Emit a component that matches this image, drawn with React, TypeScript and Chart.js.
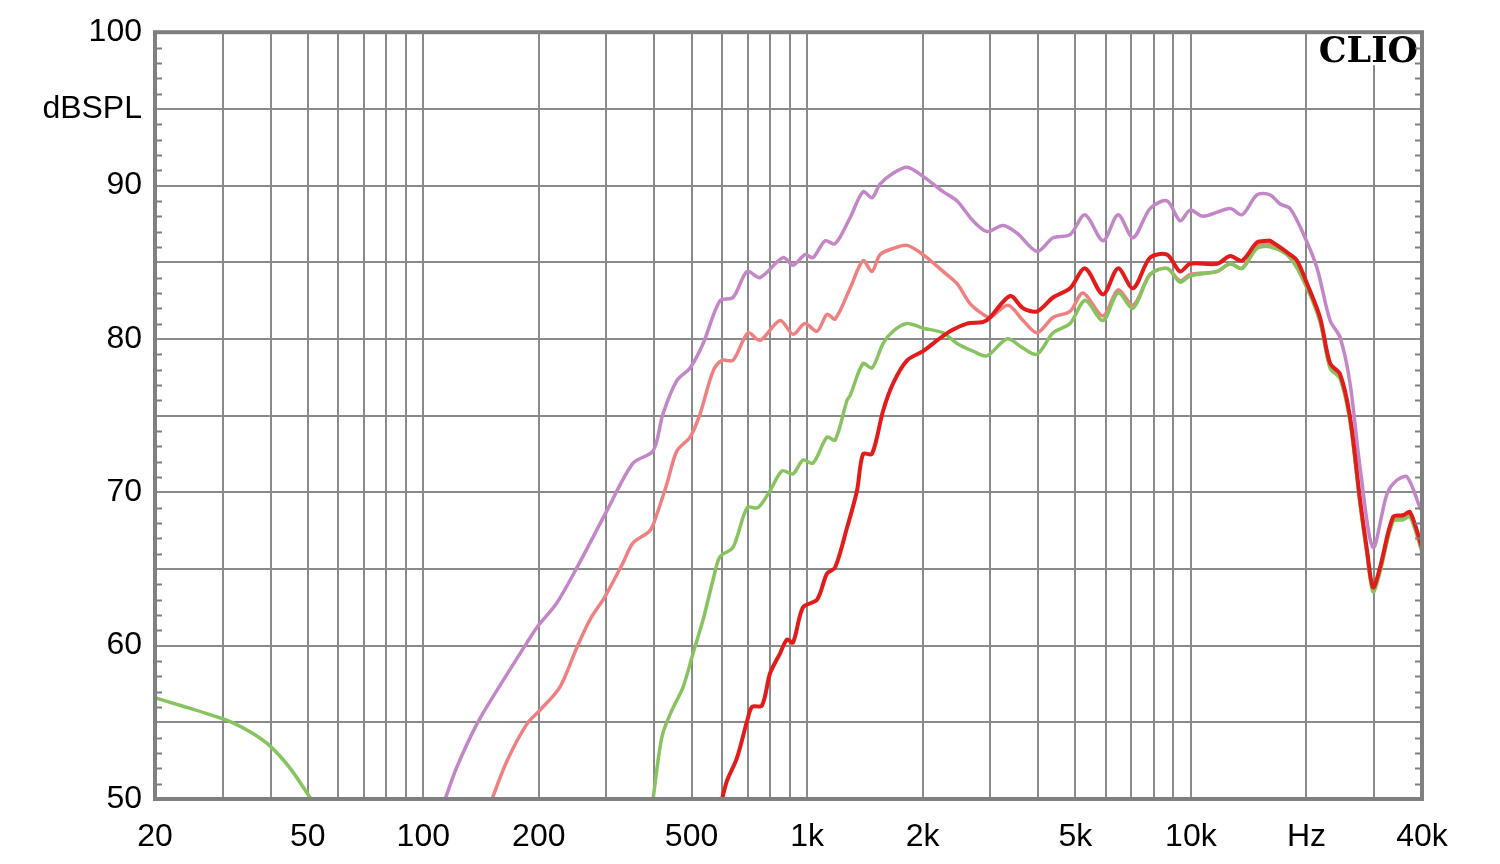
import React, { useEffect, useRef } from "react";
import { Chart, registerables } from "chart.js";

Chart.register(...registerables);

// ---------- data ----------
const purpleFreq = [114, 122.4, 138, 155.7, 186.3, 197.9, 223, 251.5, 301, 352, 397, 421, 458, 495.5, 536, 593, 641, 698, 754, 865.5, 919, 987.6, 1036, 1114, 1183, 1294, 1399, 1476, 1549, 1675, 1822, 2005, 2261, 2459, 2706, 2943, 3239, 3524, 3973, 4373, 4843, 5298, 5902, 6459, 7068, 7825, 8665, 9370, 9948, 10755, 12647, 13592, 14871, 16078, 17074, 18130, 19836, 21320, 23046, 24469, 25980, 27590, 29820, 32430, 34440, 36570, 39540, 40000];
const purpleDb = [50, 52.1, 54.9, 57.1, 60.2, 61.2, 62.8, 65.1, 68.8, 71.9, 72.7, 75.1, 77.3, 78.1, 79.7, 82.5, 82.7, 84.4, 84.0, 85.3, 84.8, 85.5, 85.3, 86.4, 86.2, 87.9, 89.6, 89.2, 90.1, 90.8, 91.2, 90.6, 89.6, 89.0, 87.7, 87.0, 87.4, 86.9, 85.7, 86.6, 86.8, 88.1, 86.4, 88.1, 86.6, 88.5, 89.0, 87.7, 88.4, 88.0, 88.5, 88.1, 89.4, 89.4, 88.8, 88.5, 86.6, 84.6, 81.2, 80.1, 77.1, 71.6, 66.4, 69.9, 70.8, 71.0, 69.0, 68.8];

const pinkFreq = [151, 165.3, 186.3, 201.5, 227, 251.5, 271.9, 297.5, 331.4, 352, 389.5, 406.4, 431.7, 458, 495.5, 526, 568.9, 600.3, 641, 702, 754, 850.4, 919, 987.6, 1061.5, 1127, 1183, 1294, 1399, 1476, 1549, 1675, 1822, 2005, 2261, 2459, 2658, 2873, 2997, 3339, 3653, 3973, 4373, 4843, 5235, 5902, 6459, 7068, 7825, 8665, 9370, 9948, 11700, 12647, 13592, 14871, 16078, 18130, 20072, 21700, 23046, 24469, 25980, 27590, 28770, 29820, 31100, 33630, 35710, 37240, 40000];
const pinkDb = [50, 52.5, 54.9, 55.8, 57.3, 59.9, 61.7, 63.2, 65.4, 66.7, 67.5, 68.6, 70.6, 72.7, 73.6, 75.1, 77.9, 78.6, 78.6, 80.4, 79.9, 81.2, 80.3, 81.0, 80.5, 81.6, 81.3, 83.3, 85.1, 84.4, 85.5, 85.9, 86.1, 85.5, 84.4, 83.6, 82.3, 81.6, 81.4, 82.2, 81.2, 80.4, 81.4, 81.8, 83.0, 81.5, 83.2, 82.2, 84.2, 84.6, 83.8, 84.2, 84.4, 84.9, 84.6, 86.1, 86.2, 85.3, 83.4, 81.2, 78.2, 77.5, 74.7, 69.3, 66.0, 63.7, 65.0, 68.2, 68.3, 68.5, 66.2];

const greenLowFreq = [20, 23.66, 27.83, 31.74, 35.8, 39.9, 45.0, 51];
const greenLowDb = [56.6, 56.05, 55.5, 55.0, 54.3, 53.45, 52.0, 50];

const greenFreq = [397, 408.9, 421, 444.7, 475.2, 504.6, 536, 568.9, 593, 641, 698, 745, 800.8, 860.4, 919, 976, 1036, 1127, 1183, 1271, 1294, 1399, 1476, 1577, 1675, 1822, 2005, 2261, 2459, 2706, 2943, 3319, 3653, 3973, 4373, 4843, 5298, 5902, 6459, 7068, 7825, 8665, 9370, 9948, 11700, 12647, 13592, 14871, 16078, 18130, 20072, 21700, 23046, 24469, 25980, 27590, 28770, 29820, 31100, 33630, 35710, 37240, 40000];
const greenDb = [50, 52.5, 54.3, 55.8, 57.3, 59.5, 61.7, 64.3, 65.8, 66.4, 69.0, 69.0, 70.1, 71.4, 71.2, 72.1, 71.9, 73.6, 73.4, 76.0, 76.3, 78.4, 78.1, 79.7, 80.5, 81.0, 80.7, 80.4, 79.7, 79.2, 78.9, 80.0, 79.4, 79.0, 80.4, 81.0, 82.5, 81.2, 83.0, 82.0, 84.2, 84.6, 83.7, 84.1, 84.4, 84.9, 84.6, 85.9, 86.0, 85.3, 83.3, 81.1, 78.1, 77.4, 74.6, 69.2, 65.9, 63.5, 64.8, 68.1, 68.2, 68.4, 66.1];

const redFreq = [600.3, 618.6, 657, 698, 718.8, 763, 800.8, 850.4, 886.8, 919, 975.9, 1061.5, 1127, 1183, 1271, 1349, 1399, 1476, 1577, 1675, 1822, 2005, 2181, 2357, 2610, 2873, 2997, 3380, 3653, 3973, 4373, 4843, 5298, 5902, 6459, 7068, 7825, 8665, 9370, 9948, 11700, 12647, 13592, 14871, 15790, 16078, 18130, 18907, 20072, 21700, 23046, 24469, 25980, 27590, 28770, 29820, 31100, 33630, 35710, 37240, 40000];
const redDb = [50, 51.2, 52.7, 55.1, 56.0, 56.1, 58.2, 59.5, 60.4, 60.2, 62.5, 63.0, 64.7, 65.1, 67.7, 70.1, 72.5, 72.5, 75.3, 77.1, 78.6, 79.2, 79.9, 80.5, 81.0, 81.1, 81.4, 82.8, 82.0, 81.8, 82.7, 83.3, 84.6, 82.9, 84.6, 83.3, 85.3, 85.5, 84.4, 84.9, 84.9, 85.4, 85.1, 86.3, 86.4, 86.4, 85.5, 85.1, 83.6, 81.4, 78.4, 77.7, 74.9, 69.5, 66.2, 63.8, 65.1, 68.4, 68.5, 68.7, 66.4];

// axis ticks
const xGridValues = [20, 30, 40, 50, 60, 70, 80, 90, 100, 200, 300, 400, 500, 600, 700, 800, 900, 1000, 2000, 3000, 4000, 5000, 6000, 7000, 8000, 9000, 10000, 20000, 30000, 40000];
const xLabelValues = [20, 50, 100, 200, 500, 1000, 2000, 5000, 10000, 20000, 40000];
const xLabelTexts = ["20", "50", "100", "200", "500", "1k", "2k", "5k", "10k", "Hz", "40k"];
const yGridValues = [50, 55, 60, 65, 70, 75, 80, 85, 90, 95, 100];
const yLabelValues = [50, 60, 70, 80, 90, 95, 100];
const yLabelTexts = ["50", "60", "70", "80", "90", "dBSPL", "100"];

const COLORS = {
  purple: "#C386C7",
  pink: "#EF8080",
  green: "#87C35F",
  red: "#E21B1B",
  grid: "#8a8a8a",
  frame: "#808080",
};

const FONT = '"Liberation Sans", Arial, sans-serif';

const toPoints = (xs: number[], ys: number[]) => xs.map((x, i) => ({ x, y: ys[i] }));

const decorPlugin = {
  id: "decor",
  afterDraw(chart: any) {
    const { ctx, chartArea, scales } = chart;
    const y = scales.y;
    ctx.save();
    // CLIO logo
    ctx.font = 'bold 35px "DejaVu Serif", serif';
    ctx.textAlign = "right";
    ctx.textBaseline = "alphabetic";
    const tw = ctx.measureText("CLIO").width;
    ctx.fillStyle = "#ffffff";
    ctx.fillRect(chartArea.right - tw - 8, chartArea.top + 1, tw + 6, 32);
    ctx.fillStyle = "#000000";
    ctx.fillText("CLIO", chartArea.right - 4, chartArea.top + 30);
    // minor ticks every 1 dB on left and right axes
    ctx.strokeStyle = COLORS.frame;
    ctx.lineWidth = 2;
    ctx.beginPath();
    for (let v = 51; v < 100; v++) {
      if (v % 5 === 0) continue;
      const py = Math.round(y.getPixelForValue(v)) + 0.5;
      ctx.moveTo(chartArea.left, py);
      ctx.lineTo(chartArea.left + 7, py);
      ctx.moveTo(chartArea.right, py);
      ctx.lineTo(chartArea.right - 7, py);
    }
    ctx.stroke();
    // frame
    ctx.lineWidth = 4;
    ctx.strokeStyle = COLORS.frame;
    ctx.strokeRect(chartArea.left, chartArea.top, chartArea.right - chartArea.left, chartArea.bottom - chartArea.top);
    ctx.restore();
  },
};

export default function App() {
  const ref = useRef<HTMLCanvasElement | null>(null);

  useEffect(() => {
    if (!ref.current) return;
    const line = (data: any[], color: string, width: number, order: number, mono = false) => ({
      data,
      borderColor: color,
      backgroundColor: color,
      borderWidth: width,
      pointRadius: 0,
      tension: 0.3,
      cubicInterpolationMode: mono ? "monotone" : "default",
      fill: false,
      order,
    });
    const chart = new Chart(ref.current, {
      type: "line",
      data: {
        datasets: [
          line(toPoints(redFreq, redDb), COLORS.red, 4, 0),
          line(toPoints(greenFreq, greenDb), COLORS.green, 3.5, 1),
          line(toPoints(greenLowFreq, greenLowDb), COLORS.green, 3.5, 1, true),
          line(toPoints(pinkFreq, pinkDb), COLORS.pink, 3.5, 2),
          line(toPoints(purpleFreq, purpleDb), COLORS.purple, 3.5, 3),
        ],
      },
      options: {
        responsive: false,
        animation: false,
        events: [],
        layout: { padding: { top: 31, left: 0, right: 0, bottom: 0 } },
        plugins: { legend: { display: false }, tooltip: { enabled: false } },
        scales: {
          x: {
            type: "logarithmic",
            position: "bottom",
            min: 20,
            max: 40000,
            afterBuildTicks: (scale: any) => {
              scale.ticks = xGridValues.map((v) => ({ value: v }));
            },
            afterFit: (scale: any) => {
              scale.height = 65;
            },
            ticks: {
              autoSkip: false,
              maxRotation: 0,
              minRotation: 0,
              padding: 19,
              color: "#000",
              font: { family: FONT, size: 32 },
              callback: (v: any) => {
                const i = xLabelValues.indexOf(Number(v));
                return i >= 0 ? xLabelTexts[i] : "";
              },
            },
            grid: { color: COLORS.grid, lineWidth: 2, drawTicks: false },
            border: { display: false },
          },
          y: {
            type: "linear",
            position: "left",
            min: 50,
            max: 100,
            afterBuildTicks: (scale: any) => {
              scale.ticks = yGridValues.map((v) => ({ value: v }));
            },
            afterFit: (scale: any) => {
              scale.width = 155;
            },
            ticks: {
              padding: 13,
              color: "#000",
              font: { family: FONT, size: 32 },
              callback: (v: any) => {
                const i = yLabelValues.indexOf(Number(v));
                return i >= 0 ? yLabelTexts[i] : "";
              },
            },
            grid: { color: COLORS.grid, lineWidth: 2, drawTicks: false },
            border: { display: false },
          },
          y2: {
            type: "linear",
            position: "right",
            min: 50,
            max: 100,
            afterFit: (scale: any) => {
              scale.width = 78;
            },
            ticks: { display: false },
            grid: { drawOnChartArea: false, drawTicks: false },
            border: { display: false },
          },
        },
      },
      plugins: [decorPlugin],
    });
    return () => chart.destroy();
  }, []);

  return (
    <div style={{ position: "fixed", left: 0, top: 0, width: 1500, height: 864, background: "#fff" }}>
      <canvas ref={ref} width={1500} height={864} style={{ display: "block" }} />
    </div>
  );
}
